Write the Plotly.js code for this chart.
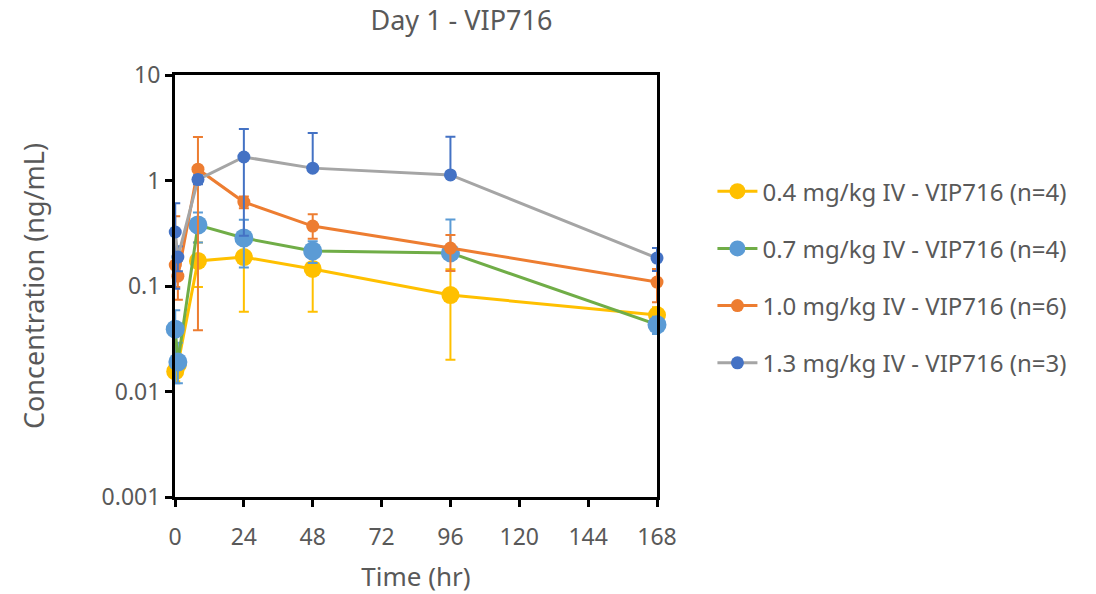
<!DOCTYPE html>
<html>
<head>
<meta charset="utf-8">
<script src="https://cdn.plot.ly/plotly-3.0.1.min.js"></script>
<style>body{margin:0;background:#fff}#chart{width:1096px;height:594px}</style>
</head>
<body>
<div id="chart"></div>
<script>
// Time points (hr)
const timeHr = [0.083, 1, 8, 24, 48, 96, 168];

const seriesNames = [
  "0.4 mg/kg IV - VIP716 (n=4)",
  "0.7 mg/kg IV - VIP716 (n=4)",
  "1.0 mg/kg IV - VIP716 (n=6)",
  "1.3 mg/kg IV - VIP716 (n=3)"
];

// Mean concentration (ng/mL)
const conc04 = [0.0155, 0.018, 0.173, 0.188, 0.145, 0.082, 0.053];
const conc07 = [0.039, 0.019, 0.378, 0.285, 0.215, 0.206, 0.043];
const conc10 = [0.158, 0.124, 1.28, 0.625, 0.37, 0.229, 0.109];
const conc13 = [0.325, 0.188, 1.02, 1.67, 1.31, 1.13, 0.184];

// Error bar sizes (plus / minus)
const errPlus04 = [0.004, 0.004, 0.085, 0.133, 0.088, 0.062, 0.01];
const errMinus04 = [0.003, 0.003, 0.075, 0.131, 0.088, 0.062, 0.01];
const errPlus07 = [0.02, 0.01, 0.12, 0.14, 0.05, 0.22, 0.008];
const errMinus07 = [0.027, 0.007, 0.12, 0.135, 0.05, 0, 0.008];
const errPlus10 = [0.30, 0.05, 1.30, 0.08, 0.11, 0.075, 0.036];
const errMinus10 = [0.06, 0.05, 1.242, 0.08, 0.09, 0.09, 0.039];
const errPlus13 = [0.285, 0.05, 0.1, 1.40, 1.51, 1.47, 0.045];
const errMinus13 = [0.231, 0.05, 0.1, 1.37, 0, 0, 0.045];

const markerColors = ["#FFC000", "#5B9BD5", "#ED7D31", "#4472C4"];
const lineColors = ["#FFC000", "#70AD47", "#ED7D31", "#A5A5A5"];
const markerSizes = [18, 19, 13, 13];

const allConc = [conc04, conc07, conc10, conc13];
const allPlus = [errPlus04, errPlus07, errPlus10, errPlus13];
const allMinus = [errMinus04, errMinus07, errMinus10, errMinus13];

const traces = allConc.map((c, i) => ({
  type: "scatter",
  mode: "lines+markers",
  name: seriesNames[i],
  legendgroup: "g" + i,
  x: timeHr,
  y: c,
  cliponaxis: false,
  line: {color: lineColors[i], width: 3},
  marker: {color: markerColors[i], size: markerSizes[i]},
  error_y: {
    type: "data",
    symmetric: false,
    array: allPlus[i],
    arrayminus: allMinus[i],
    color: markerColors[i],
    thickness: 2,
    width: 5
  }
}));

const fontFam = "'Noto Sans', 'Open Sans', sans-serif";
const txtColor = "#595959";
const layout = {
  width: 1096,
  height: 594,
  paper_bgcolor: "#fff",
  plot_bgcolor: "#fff",
  margin: {l: 175, r: 439, t: 75, b: 97},
  title: {
    text: "Day 1 - VIP716",
    font: {family: fontFam, size: 27, color: txtColor},
    x: 0.421, xanchor: "center", y: 0.965, yanchor: "middle"
  },
  xaxis: {
    range: [0, 168],
    tickvals: [0, 24, 48, 72, 96, 120, 144, 168],
    ticks: "outside", ticklen: 7, tickwidth: 3, tickcolor: "#000",
    ticklabelstandoff: 10,
    showline: true, linecolor: "#000", linewidth: 3, mirror: true,
    showgrid: false, zeroline: false,
    tickfont: {family: fontFam, size: 23, color: txtColor},
    title: {text: "Time (hr)", font: {family: fontFam, size: 26, color: txtColor}, standoff: 18}
  },
  yaxis: {
    type: "log",
    range: [-3, 1],
    tickvals: [0.001, 0.01, 0.1, 1, 10],
    ticktext: ["0.001", "0.01", "0.1", "1", "10"],
    ticks: "outside", ticklen: 7, tickwidth: 3, tickcolor: "#000",
    showline: true, linecolor: "#000", linewidth: 3, mirror: true,
    showgrid: false, zeroline: false,
    tickfont: {family: fontFam, size: 23, color: txtColor},
    title: {text: "Concentration (ng/mL)", font: {family: fontFam, size: 27, color: txtColor}, standoff: 50}
  },
  showlegend: true,
  legend: {
    x: 1.115, xanchor: "left",
    y: 0.777, yanchor: "top",
    font: {family: fontFam, size: 24, color: txtColor},
    traceorder: "grouped",
    tracegroupgap: 23,
    itemwidth: 40,
    bgcolor: "rgba(0,0,0,0)"
  }
};

Plotly.newPlot("chart", traces, layout, {displayModeBar: false, staticPlot: true});
</script>
</body>
</html>
